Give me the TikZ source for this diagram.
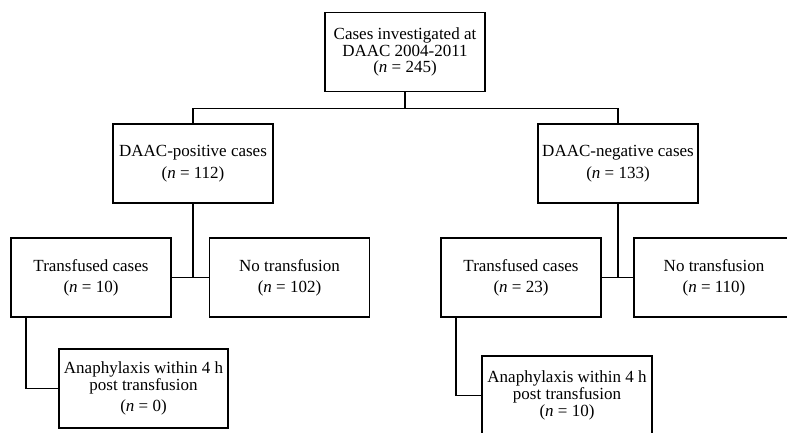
\documentclass[tikz,border=0pt]{standalone}
\usepackage{fontspec}
\setmainfont{Liberation Serif}

\tikzset{every picture/.style={line width=1.2pt}}
\tikzset{flowbox/.style={draw, line width=1.2pt, minimum width=120pt, minimum height=59.25pt, inner sep=0pt, align=center, font=\fontsize{12.75}{13.5}\selectfont}}

\begin{document}
\begin{tikzpicture}[x=0.75pt,y=0.75pt,yscale=-1,xscale=1]
        \useasboundingbox (0,0) rectangle (787,432);
        \clip (0,0) rectangle (787,432);

        % Boxes
        \node [flowbox] (total) at (405,52) {Cases investigated at\\[-1pt] DAAC 2004-2011\\[-1pt] (\textit{n} = 245)};
        \node [flowbox] (pos) at (193,163.5) {DAAC-positive cases\\[3pt] (\textit{n} = 112)};
        \node [flowbox] (neg) at (618,163.5) {DAAC-negative cases\\[3pt] (\textit{n} = 133)};
        \node [flowbox] (postrans) at (91,277.5) {Transfused cases\\[2pt] (\textit{n} = 10)};
        \node [flowbox] (posnone) at (289.5,277.5) {No transfusion\\[2pt] (\textit{n} = 102)};
        \node [flowbox] (negtrans) at (521,277.5) {Transfused cases\\[2pt] (\textit{n} = 23)};
        \node [flowbox] (negnone) at (714,277.5) {No transfusion\\[2pt] (\textit{n} = 110)};
        \node [flowbox, minimum width=126.75pt] (posana) at (143.5,388.5) {Anaphylaxis within 4 h\\[-1pt] post transfusion\\[2pt] (\textit{n} = 0)};
        \node [flowbox, minimum width=127.5pt] (negana) at (567,395.5) {Anaphylaxis within 4 h\\[-1pt] post transfusion\\[-1pt] (\textit{n} = 10)};

        % Connectors
        \draw (total.south) -- ++(0,16) coordinate (split);
        \draw (split) -| (pos.north);
        \draw (split) -| (neg.north);
        \draw (pos.south) -- (pos.south |- postrans.east);
        \draw (postrans.east) -- (posnone.west);
        \draw (neg.south) -- (neg.south |- negtrans.east);
        \draw (negtrans.east) -- (negnone.west);
        \draw ([xshift=12pt]postrans.south west) |- (posana.west);
        \draw ([xshift=12pt]negtrans.south west) |- (negana.west);

\end{tikzpicture}
\end{document}
